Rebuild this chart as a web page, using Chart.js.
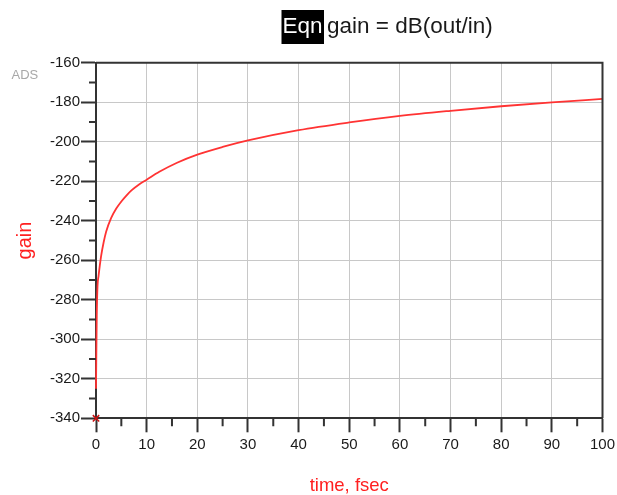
<!DOCTYPE html>
<html>
<head>
<meta charset="utf-8">
<script src="https://cdn.jsdelivr.net/npm/chart.js@4/dist/chart.umd.min.js"></script>
<style>
html,body{margin:0;padding:0;background:#fff;}
canvas{display:block;}
</style>
</head>
<body>
<canvas id="c" width="617" height="495"></canvas>
<script>
// time, fsec
const timeFs = [0, 0.15, 0.3, 0.5, 1, 1.5, 2, 3, 4, 5, 6, 7, 8.5, 10, 12.5, 16, 20, 25, 30, 40, 50, 60, 70, 80, 90, 100];
// gain, dB
const gainDb = [-325, -288, -273, -268, -258, -251, -245.5, -238.5, -233.8, -230.2, -227.2, -224.6, -221.6, -219.2, -215.2, -210.6, -206.5, -202.6, -199.3, -194.1, -190.2, -186.9, -184.3, -182, -180, -178.3];
// marker point
const markerTime = [0];
const markerGain = [-340];
// tick labels
const xTickValues = [0, 10, 20, 30, 40, 50, 60, 70, 80, 90, 100];
const yTickValues = [-340, -320, -300, -280, -260, -240, -220, -200, -180, -160];
const xMinorValues = [5, 15, 25, 35, 45, 55, 65, 75, 85, 95];
const yMinorValues = [-330, -310, -290, -270, -250, -230, -210, -190, -170];

const FONT = "'Liberation Sans', Arial, sans-serif";

const decor = {
  id: 'decor',
  afterDraw(chart) {
    const ctx = chart.ctx;
    const a = chart.chartArea;
    const xs = chart.scales.x, ys = chart.scales.y;
    ctx.save();
    // top & right border
    ctx.strokeStyle = '#333';
    ctx.lineWidth = 2;
    ctx.beginPath();
    ctx.moveTo(a.left, a.top);
    ctx.lineTo(a.right, a.top);
    ctx.lineTo(a.right, a.bottom);
    ctx.stroke();
    // minor ticks
    ctx.lineWidth = 2;
    ctx.beginPath();
    xMinorValues.forEach(v => {
      const px = xs.getPixelForValue(v);
      ctx.moveTo(px, a.bottom);
      ctx.lineTo(px, a.bottom + 8);
    });
    yMinorValues.forEach(v => {
      const py = ys.getPixelForValue(v);
      ctx.moveTo(a.left, py);
      ctx.lineTo(a.left - 7, py);
    });
    ctx.stroke();
    // title
    ctx.font = '22.5px ' + FONT;
    ctx.textBaseline = 'alphabetic';
    ctx.textAlign = 'left';
    ctx.fillStyle = '#000';
    ctx.fillRect(281.5, 10, 42.5, 34);
    ctx.fillStyle = '#fff';
    ctx.fillText('Eqn', 282.5, 32.5);
    ctx.fillStyle = '#1a1a1a';
    ctx.fillText('gain = dB(out/in)', 327, 32.5);
    // ADS label
    ctx.font = '13px ' + FONT;
    ctx.fillStyle = '#a8a8a8';
    ctx.fillText('ADS', 11.5, 79.3);
    ctx.restore();
  }
};

new Chart(document.getElementById('c'), {
  type: 'line',
  data: {
    datasets: [
      {
        data: timeFs.map((t, i) => ({x: t, y: gainDb[i]})),
        borderColor: '#ff3333',
        borderWidth: 1.8,
        pointRadius: 0,
        cubicInterpolationMode: 'monotone',
        fill: false,
        clip: false
      },
      {
        type: 'scatter',
        data: markerTime.map((t, i) => ({x: t, y: markerGain[i]})),
        pointStyle: 'crossRot',
        pointRadius: 4.5,
        borderColor: '#cc1010',
        borderWidth: 1.5,
        clip: false
      }
    ]
  },
  options: {
    responsive: false,
    animation: false,
    events: [],
    layout: { padding: { top: 62.8, right: 14.5, left: 0, bottom: 0 } },
    plugins: { legend: { display: false }, tooltip: { enabled: false }, title: { display: false } },
    scales: {
      x: {
        type: 'linear',
        min: 0, max: 100,
        afterBuildTicks: s => { s.ticks = xTickValues.map(v => ({value: v})); },
        afterFit: s => { s.height = 76.7; s.paddingLeft = 0; s.paddingRight = 0; },
        grid: { color: '#c8c8c8', lineWidth: 1, drawTicks: true, tickLength: 14, tickColor: '#333', tickWidth: 2 },
        border: { display: true, color: '#333', width: 2 },
        ticks: { color: '#1a1a1a', font: { family: FONT, size: 15 }, padding: 4, maxRotation: 0, autoSkip: false },
        title: { display: true, text: 'time, fsec', color: '#ff2020', font: { family: FONT, size: 18.5, lineHeight: 1 }, padding: { top: 0, bottom: 0.3 } }
      },
      y: {
        type: 'linear',
        min: -340, max: -160,
        afterBuildTicks: s => { s.ticks = yTickValues.map(v => ({value: v})); },
        afterFit: s => { s.width = 96; s.paddingTop = 0; s.paddingBottom = 0; },
        grid: { color: '#c8c8c8', lineWidth: 1, drawTicks: true, tickLength: 15, tickColor: '#333', tickWidth: 2 },
        border: { display: true, color: '#333', width: 2 },
        ticks: { color: '#1a1a1a', font: { family: FONT, size: 15 }, padding: 1, autoSkip: false },
        title: { display: true, text: 'gain', color: '#ff2020', font: { family: FONT, size: 20, lineHeight: 1 }, padding: { top: 15, bottom: 0 } }
      }
    }
  },
  plugins: [decor]
});
</script>
</body>
</html>
